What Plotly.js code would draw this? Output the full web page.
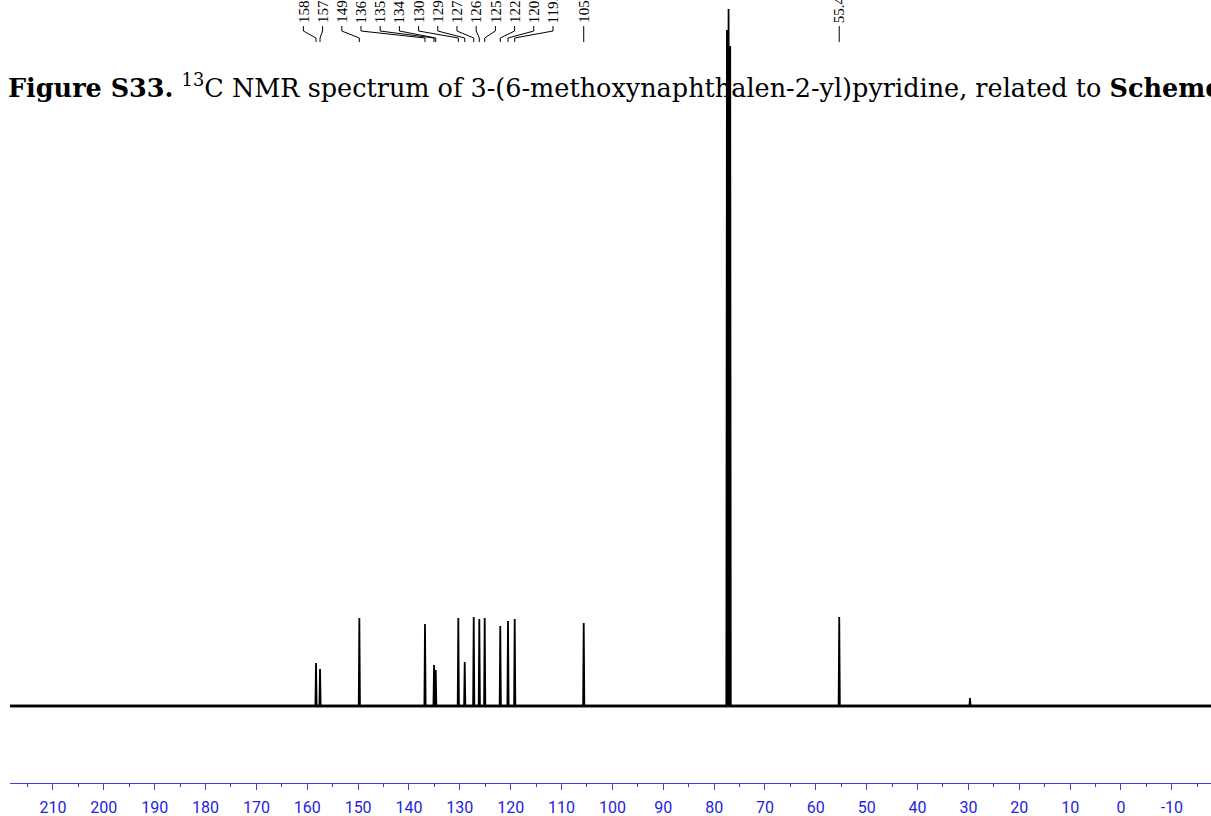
<!DOCTYPE html>
<html>
<head>
<meta charset="utf-8">
<script src="https://cdn.plot.ly/plotly-3.0.1.min.js"></script>
<style>html,body{margin:0;padding:0;background:#fff;}#chart{width:1211px;height:816px;}</style>
</head>
<body>
<div id="chart"></div>
<script>
// ---- data ----
const xRange = [218.45, -17.7];                 // ppm shown (reversed axis)
const peakPpm = [158.28, 157.49, 149.76, 136.85, 135.07, 134.74, 130.30, 129.04, 127.27, 126.17,
                 125.11, 122.05, 120.53, 119.21, 105.64, 77.48, 77.16, 76.84, 55.40, 29.69];
const peakHeight = [43, 37, 88, 82, 41, 36, 88, 44, 89, 87,
                    88, 80, 85, 87, 83, 676, 697, 660, 89, 8];
const labelPpm = [158.28, 157.49, 149.76, 136.85, 135.07, 134.74, 130.30, 129.04, 127.27, 126.17,
                  125.11, 122.05, 120.53, 119.21, 105.64, 55.40];
const tickVals = [210, 200, 190, 180, 170, 160, 150, 140, 130, 120, 110, 100, 90, 80, 70, 60, 50, 40, 30, 20, 10, 0, -10];
const tickText = ['210','200','190','180','170','160','150','140','130','120','110','100','90','80','70','60','50','40','30','20','10','0','-10'];
const minorVals = [215, 205, 195, 185, 175, 165, 155, 145, 135, 125, 115, 105, 95, 85, 75, 65, 55, 45, 35, 25, 15, 5, -5, -15];
const titleText = '<b>Figure S33.</b> <sup>13</sup>C NMR spectrum of 3-(6-methoxynaphthalen-2-yl)pyridine, related to <b>Scheme 3</b>';

// ---- layout constants ----
const W = 1211, H = 816;
const M = {l: 10, r: 0, t: 0, b: 33};
const plotW = W - M.l - M.r, plotH = H - M.t - M.b;
const yRange = [-77, 706];
const blue = '#2424e0';

const pxOfPpm = p => M.l + (xRange[0] - p) / (xRange[0] - xRange[1]) * plotW;
const ppmOfPx = px => xRange[0] - (px - M.l) / plotW * (xRange[0] - xRange[1]);
const yOfPx = py => yRange[1] - (py - M.t) / plotH * (yRange[1] - yRange[0]);

// ---- spectrum trace built from peak arrays ----
const hw = 0.12;
const order = peakPpm.map((p, i) => i).sort((a, b) => peakPpm[b] - peakPpm[a]);
const sx = [xRange[0]], sy = [0];
order.forEach(i => {
  sx.push(peakPpm[i] + hw, peakPpm[i], peakPpm[i] - hw);
  sy.push(0, peakHeight[i], 0);
});
sx.push(xRange[1]); sy.push(0);

// ---- label spreading (groups of labels placed to avoid overlap) ----
const gap = 19.2;
const targets = labelPpm.map(pxOfPpm);
let groups = targets.map((t, i) => ({idx: [i]}));
function place(g) {
  const t = g.idx.map(i => targets[i]);
  const mean = t.reduce((a, b) => a + b, 0) / t.length;
  const mid = (Math.min(...t) + Math.max(...t)) / 2;
  const c = (mean + mid) / 2;
  g.start = c - (t.length - 1) * gap / 2;
  g.end = g.start + (t.length - 1) * gap;
}
groups.forEach(place);
let changed = true;
while (changed) {
  changed = false;
  for (let k = 0; k < groups.length - 1; k++) {
    if (groups[k].end + gap > groups[k + 1].start) {
      groups[k].idx = groups[k].idx.concat(groups[k + 1].idx);
      groups.splice(k + 1, 1);
      place(groups[k]);
      changed = true;
      break;
    }
  }
}
const labelPx = [];
groups.forEach(g => g.idx.forEach((i, k) => { labelPx[i] = g.start + k * gap; }));

const annotations = labelPpm.map((p, i) => ({
  x: ppmOfPx(labelPx[i]), y: yOfPx(24), xref: 'x', yref: 'y',
  text: p.toFixed(2), textangle: -90, showarrow: false,
  xanchor: 'center', yanchor: 'bottom', borderpad: 0,
  font: {family: 'Liberation Serif, Times New Roman, serif', size: 15, color: '#000'}
}));

const shapes = labelPpm.map((p, i) => ({
  type: 'path', xref: 'x', yref: 'y',
  path: `M ${ppmOfPx(labelPx[i])},${yOfPx(26)} L ${ppmOfPx(labelPx[i])},${yOfPx(31)} L ${p},${yOfPx(38)} L ${p},${yOfPx(42)}`,
  line: {color: '#000', width: 1}
}));

const data = [
  {x: xRange, y: [0, 0], type: 'scatter', mode: 'lines', line: {color: '#1a1a1a', width: 3}, hoverinfo: 'skip'},
  {x: sx, y: sy, type: 'scatter', mode: 'lines', line: {color: '#000', width: 1.8}, hoverinfo: 'skip'}
];

const layout = {
  width: W, height: H,
  margin: M,
  paper_bgcolor: '#fff', plot_bgcolor: '#fff',
  showlegend: false,
  title: {
    text: titleText, xref: 'container', yref: 'container',
    x: 8 / W, xanchor: 'left', y: 1 - 88 / H, yanchor: 'middle',
    font: {family: 'DejaVu Serif, serif', size: 25.5, color: '#000'}
  },
  xaxis: {
    range: xRange, showgrid: false, zeroline: false,
    showline: true, linecolor: '#3c3cf5', linewidth: 1.3,
    ticks: 'outside', ticklen: 6, tickwidth: 1, tickcolor: '#3c3cf5',
    tickmode: 'array', tickvals: tickVals, ticktext: tickText,
    ticklabelstandoff: 3,
    tickfont: {family: 'Roboto, sans-serif', size: 16, color: blue},
    minor: {tickmode: 'array', tickvals: minorVals, ticks: 'outside', ticklen: 3, tickwidth: 1, tickcolor: '#3c3cf5', showgrid: false},
    fixedrange: true
  },
  yaxis: {range: yRange, visible: false, fixedrange: true},
  annotations: annotations,
  shapes: shapes
};

Plotly.newPlot('chart', data, layout, {staticPlot: true, displayModeBar: false});
</script>
</body>
</html>
